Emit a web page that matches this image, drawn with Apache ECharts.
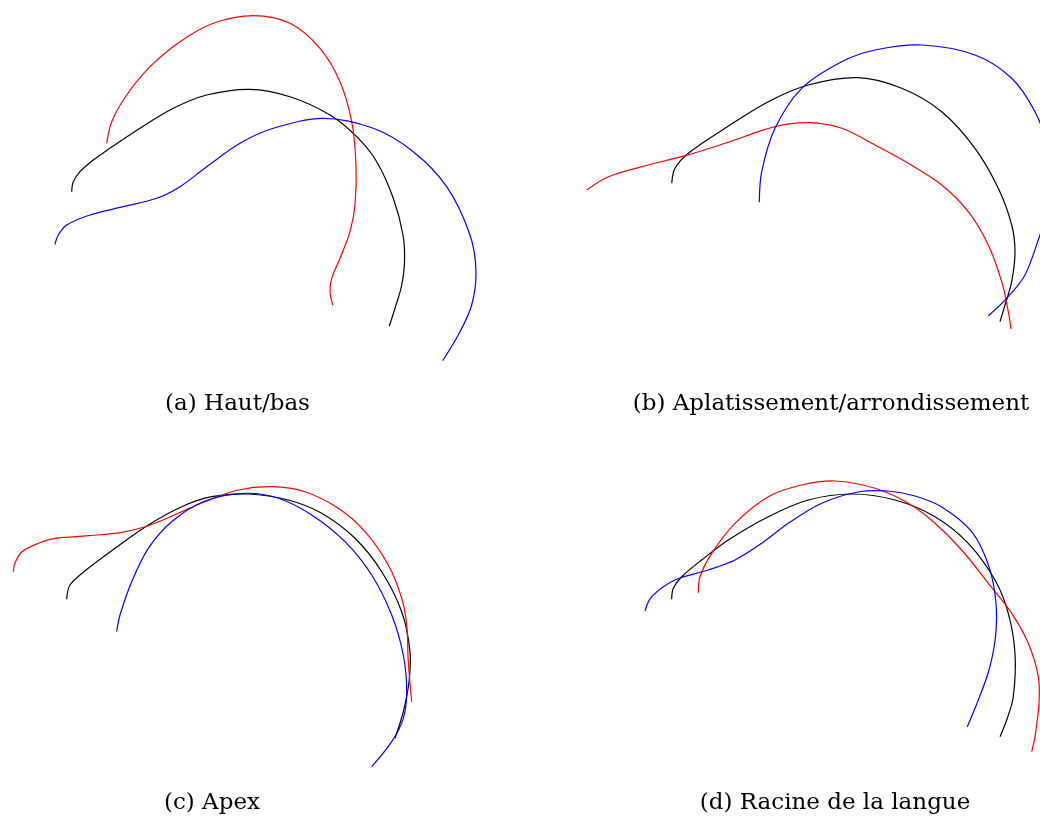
<!DOCTYPE html>
<html>
<head>
<meta charset="utf-8">
<script src="https://cdn.jsdelivr.net/npm/echarts@6/dist/echarts.min.js"></script>
<style>html,body{margin:0;padding:0;background:#fff}#c{width:1040px;height:818px}</style>
</head>
<body>
<div id="c"></div>
<script>
// Contour points [x, y] (page units, y downward)
const aBlack = [[71.7,191.7],[73.3,181.7],[80,171.7],[93.3,160],[106.7,150.5],[140,128.3],[173.3,108.3],[206.7,95],[250,89.3],[290,96.7],[330,115],[356.7,136.7],[376.7,161.7],[393.3,198.3],[403,235],[404.5,262],[401.5,286],[395.5,306.7],[389.3,326]];
const aRed = [[106.7,143.3],[111.7,121.7],[126.7,95],[150,66.7],[180,41.7],[213.3,23.3],[253.3,15.7],[290,23.3],[320,48.3],[340,81.7],[351.7,121.7],[356,165],[355,205],[350,231.7],[340,258.3],[331.7,278.3],[330,291.7],[332.7,305]];
const aBlue = [[55,244.3],[58.3,235],[66.7,225],[90,215],[123.3,206.7],[156.7,198.3],[180,186.7],[206.7,166.7],[240,143.3],[273.3,128.3],[323.3,118.3],[373.3,128.3],[413.3,151.7],[446.7,186.7],[470,235],[476,271.7],[471.7,305],[460,331.7],[442.7,360.7]];

const bBlack = [[671.7,183.3],[675,168.3],[688.3,153.3],[725,128.3],[768.3,101.7],[808.3,85],[858.3,77.7],[901.7,88.3],[941.7,111.7],[975,148.3],[998.3,188.3],[1011.7,225],[1015,251.7],[1011.7,281.7],[1005,305],[1000,321.7]];
const bRed = [[586.7,190],[608.3,176.7],[641.7,166.7],[685,155.7],[725,143.3],[775,126.7],[808.3,122.7],[841.7,128.3],[875,145],[908.3,163.3],[941.7,185],[968.3,211.7],[988.3,245],[1001.7,281.7],[1008.3,311.7],[1011,329]];
const bBlue = [[759.3,202.3],[761.7,171.7],[775,128.3],[801.7,88.3],[841.7,61.7],[875,50],[921.7,45],[975,55],[1011.7,78.3],[1035,111.7],[1047,145],[1052,180],[1048,212],[1040,235],[1025,275],[1006.7,298.3],[988.3,315.7]];

const cBlack = [[66.7,599.3],[70,585],[88.3,568.3],[115,548.3],[148.3,525],[181.7,506.7],[211.7,496.7],[248.3,494],[288.3,500],[321.7,513.3],[355,538.3],[381.7,571.7],[401.7,611.7],[410,651.7],[409,681.7],[403.3,711.7],[395,738.3]];
const cRed = [[13.3,571.7],[15,563],[21.7,552],[38.3,543.3],[55,538.3],[88.3,535.7],[121.7,532.3],[148.3,525.7],[178.3,513.3],[205,501.7],[238.3,490],[271.7,486.7],[305,491.7],[338.3,508.3],[365,531.7],[388.3,565],[401.7,598.3],[406.7,625],[408.3,661.7],[411.7,701.7]];
const cBlue = [[116.7,631.7],[120,615],[131.7,581.7],[148.3,548.3],[171.7,521.7],[205,501],[245,493.3],[278.3,498.3],[311.7,515],[345,541.7],[371.7,575],[391.7,615],[403.3,655],[406.7,691.7],[403.3,718.3],[391.7,741.7],[371.7,766.7]];

const dBlack = [[671.7,599.3],[673.3,588.3],[681.7,576.7],[701.7,560],[728.3,540],[768.3,516.7],[808.3,500],[851.7,494],[895,500],[935,516.7],[968.3,543.3],[995,580],[1008.3,613.3],[1015,653.3],[1013.3,696.7],[1006.7,720],[1000,736.7]];
const dRed = [[698.3,592.7],[700,576.7],[711.7,553.3],[735,523.3],[768.3,496.7],[801.7,485],[835,481],[875,488.3],[908.3,503.3],[935,523.3],[961.7,550],[988.3,583.3],[1011.7,613.3],[1028.3,643.3],[1038.3,676.7],[1039,703.3],[1035,736.7],[1031.7,751.7]];
const dBlue = [[645,611],[651.7,596.7],[675,580],[708.3,570],[735,560],[761.7,543.3],[788.3,523.3],[821.7,503.3],[858,492],[888,491],[915,496],[941.7,507],[971.7,531.7],[989,566.7],[996,603.3],[995.5,636.7],[989,670],[978.3,700],[967.3,726.7]];

const captions = ['(a) Haut/bas', '(b) Aplatissement/arrondissement', '(c) Apex', '(d) Racine de la langue'];

const curves = [
  [aBlack,'#000000'],[aRed,'#ff0000'],[aBlue,'#0000ff'],
  [bBlack,'#000000'],[bRed,'#ff0000'],[bBlue,'#0000ff'],
  [cBlack,'#000000'],[cRed,'#ff0000'],[cBlue,'#0000ff'],
  [dBlack,'#000000'],[dRed,'#ff0000'],[dBlue,'#0000ff']
];
const capPos = [[237.5,404],[831,404],[212,803],[835,803]];

const chart = echarts.init(document.getElementById('c'), null, {renderer:'canvas'});
chart.setOption({
  animation:false,
  backgroundColor:'#ffffff',
  grid:{left:0,right:0,top:0,bottom:0},
  xAxis:{type:'value',min:0,max:1040,show:false},
  yAxis:{type:'value',min:0,max:818,inverse:true,show:false},
  series: curves.map(([d,c]) => ({
    type:'custom', data:d, clip:true,
    renderItem:(params, api) => {
      if (params.dataIndex !== 0) return null;
      const pts = d.map(p => api.coord(p));
      return {
        type:'polyline',
        shape:{points:pts, smooth:0.33},
        style:{stroke:c, lineWidth:1.2, fill:null}
      };
    }
  })),
  graphic: captions.map((t,i) => ({
    type:'text', x:capPos[i][0], y:capPos[i][1],
    style:{text:t, fill:'#000', font:'23px "DejaVu Serif"', align:'center', verticalAlign:'middle'}
  }))
});
</script>
</body>
</html>
